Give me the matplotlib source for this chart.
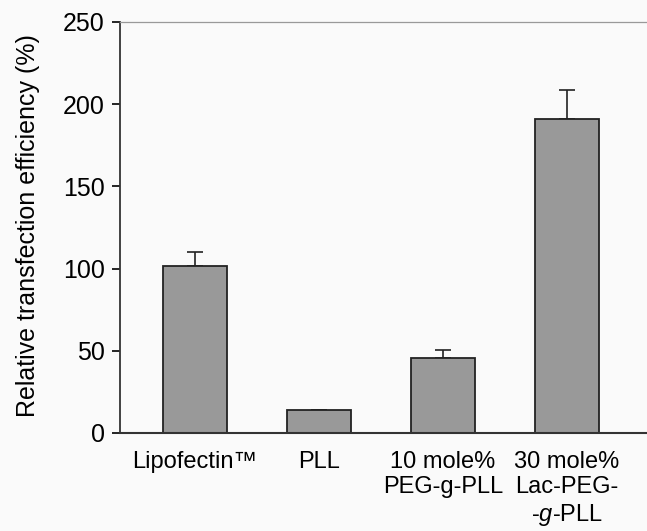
import numpy as np
import matplotlib
matplotlib.use("Agg")
import matplotlib.pyplot as plt

# data
labels = ["Lipofectin\u2122", "PLL", "10 mole%\nPEG-g-PLL", "30 mole%\nLac-PEG-\n-$\\it{g}$-PLL"]
values = [101.4, 13.9, 45.6, 190.8]
errors = [8.5, 0.0, 4.9, 18.0]

plt.rcParams["font.family"] = "Liberation Sans"
plt.rcParams["mathtext.fontset"] = "custom"
plt.rcParams["mathtext.rm"] = "Liberation Sans"
plt.rcParams["mathtext.it"] = "Liberation Sans:italic"
plt.rcParams["font.size"] = 18

fig = plt.figure(figsize=(6.47, 5.31), dpi=100, facecolor="#fafafa")
ax = fig.add_axes([0.1855, 0.1846, 1.0 - 0.1855, 0.9586 - 0.1846])
ax.set_facecolor("#fafafa")

x = np.arange(len(values))
ax.bar(x, values, width=0.52, color="#999999", edgecolor="#222222", linewidth=1.3, zorder=2)
ax.errorbar(x, values, yerr=[np.zeros(len(errors)), errors], fmt="none",
            ecolor="#222222", elinewidth=1.2, capsize=5.5, capthick=1.2, zorder=1)

ax.set_xlim(-0.605, 3.645)
ax.set_ylim(0, 250)
ax.set_yticks([0, 50, 100, 150, 200, 250])
ax.set_xticks(x)
ax.set_xticklabels(labels, linespacing=1.18, va="top")
ax.tick_params(axis="x", length=0, pad=13, labelsize=17)
ax.tick_params(axis="y", direction="out", length=6, width=1.2, labelsize=18, pad=5)

ax.spines["right"].set_visible(False)
ax.spines["top"].set_color("#999999")
ax.spines["top"].set_linewidth(0.9)
ax.spines["left"].set_linewidth(1.3)
ax.spines["bottom"].set_linewidth(1.5)
ax.spines["left"].set_color("#333333")
ax.spines["bottom"].set_color("#333333")

ax.set_ylabel("Relative transfection efficiency (%)", fontsize=18)
ax.yaxis.set_label_coords(-0.152, 0.505)

plt.savefig("out.png", dpi=100, facecolor="#fafafa")
